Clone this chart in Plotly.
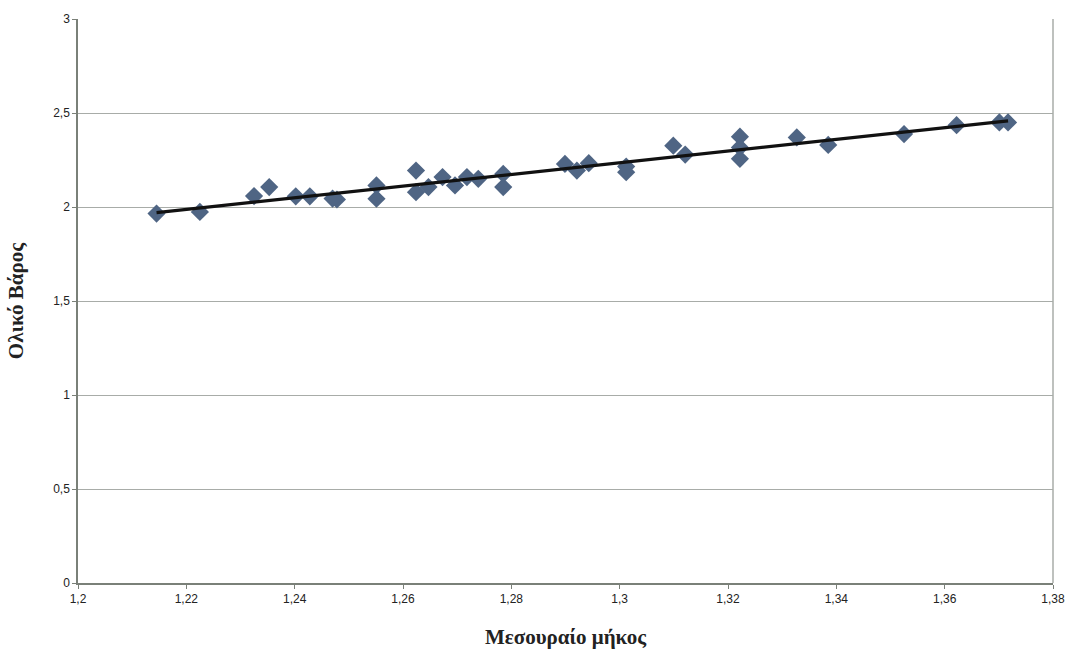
import numpy as np
import plotly.graph_objects as go

# Μεσουραίο μήκος (x) και Ολικό Βάρος (y) ανά δείγμα
length = [1.2145, 1.2225, 1.2325, 1.2353, 1.2402, 1.2428, 1.2478, 1.2470,
          1.2551, 1.2551, 1.2624, 1.2624, 1.2647, 1.2673, 1.2696, 1.2718,
          1.2739, 1.2785, 1.2785, 1.2899, 1.2921, 1.2943, 1.3012, 1.3012,
          1.3099, 1.3121, 1.3222, 1.3222, 1.3222, 1.3327, 1.3385, 1.3525,
          1.3622, 1.3701, 1.3717]
weight = [1.965, 1.974, 2.058, 2.106, 2.057, 2.057, 2.040, 2.045,
          2.115, 2.044, 2.194, 2.079, 2.106, 2.159, 2.115, 2.159,
          2.150, 2.176, 2.106, 2.229, 2.194, 2.233, 2.215, 2.185,
          2.326, 2.279, 2.374, 2.317, 2.256, 2.370, 2.330, 2.388,
          2.435, 2.450, 2.450]

x_ticks = [1.2, 1.22, 1.24, 1.26, 1.28, 1.3, 1.32, 1.34, 1.36, 1.38]
x_tick_text = ["1,2", "1,22", "1,24", "1,26", "1,28", "1,3", "1,32", "1,34", "1,36", "1,38"]
y_ticks = [0, 0.5, 1, 1.5, 2, 2.5, 3]
y_tick_text = ["0", "0,5", "1", "1,5", "2", "2,5", "3"]

# Linear trend line (least squares)
slope, intercept = np.polyfit(length, weight, 1)
x_fit = np.array([min(length), max(length)])
y_fit = slope * x_fit + intercept

fig = go.Figure()
fig.add_trace(go.Scatter(
    x=length, y=weight, mode="markers",
    marker=dict(symbol="diamond", size=14, color="#4f6584",
                line=dict(width=0)),
    showlegend=False,
))
fig.add_trace(go.Scatter(
    x=x_fit, y=y_fit, mode="lines",
    line=dict(color="#111111", width=3.2),
    showlegend=False,
))

fig.update_layout(
    width=1077, height=661,
    margin=dict(l=78, r=24, t=16, b=78),
    paper_bgcolor="white", plot_bgcolor="white",
    separators=", ",
    font=dict(family="Liberation Sans, Arial, sans-serif", size=12, color="#222222"),
    xaxis=dict(
        range=[1.2, 1.38], tickvals=x_ticks, ticktext=x_tick_text,
        showgrid=False, zeroline=False,
        showline=True, linecolor="#7a8078", linewidth=1.5, mirror=False,
        ticks="outside", ticklen=4, tickcolor="#7a8078",
        tickfont=dict(size=12),
        title=dict(text="<b>Μεσουραίο μήκος</b>", standoff=24,
                   font=dict(family="Liberation Serif, Times New Roman, serif",
                             size=21, color="#222222")),
    ),
    yaxis=dict(
        range=[0, 3], tickvals=y_ticks, ticktext=y_tick_text,
        showgrid=True, gridcolor="#a8aca8", gridwidth=1,
        zeroline=False,
        showline=True, linecolor="#7a8078", linewidth=1.5,
        ticks="outside", ticklen=4, tickcolor="#7a8078",
        tickfont=dict(size=12),
        title=dict(text="<b>Ολικό Βάρος</b>", standoff=24,
                   font=dict(family="Liberation Serif, Times New Roman, serif",
                             size=21, color="#222222")),
    ),
    shapes=[
        # right edge of the plot frame
        dict(type="line", xref="paper", yref="paper", x0=1, x1=1, y0=0, y1=1,
             line=dict(color="#a8aca8", width=1.5)),
    ],
)

fig.write_html("out.html")
